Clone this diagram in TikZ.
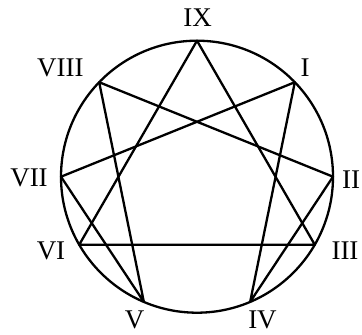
\documentclass[tikz,border=0pt]{standalone}
\usepackage{fontspec}
\setmainfont{Liberation Serif}
\begin{document}
\begin{tikzpicture}[x=1pt,y=-1pt,
  edge/.style={line width=2.3pt,line join=round,line cap=round},
  lbl/.style={font=\fontsize{27}{30}\selectfont,inner sep=0pt}]
\useasboundingbox (0,0) rectangle (362,335);
\coordinate (c) at (197,176.7);
\draw[edge] (c) circle[radius=136];
\foreach \n/\a in {p9/90,p1/44,p2/0,p3/-30,p4/-67,p5/-113,p6/-150,p7/180,p8/136}
  \coordinate (\n) at ([shift={(\a:136 and -136)}]c);
\draw[edge] (p9) -- (p3) -- (p6) -- cycle;
\draw[edge] (p1) -- (p4) -- (p2) -- (p8) -- (p5) -- (p7) -- cycle;
\node[lbl] (l9) at (197.7,17.5) {IX};
\node[lbl] (l8) at (60.3,67.8) {VIII};
\node[lbl] (l1) at (305,67.5) {I};
\node[lbl] (l7) at (29,178) {VII};
\node[lbl] (l2) at (351,180) {II};
\node[lbl] (l6) at (51,251) {VI};
\node[lbl] (l3) at (345,251) {III};
\node[lbl] (l5) at (134.5,320) {V};
\node[lbl] (l4) at (262.5,320) {IV};
\end{tikzpicture}
\end{document}
